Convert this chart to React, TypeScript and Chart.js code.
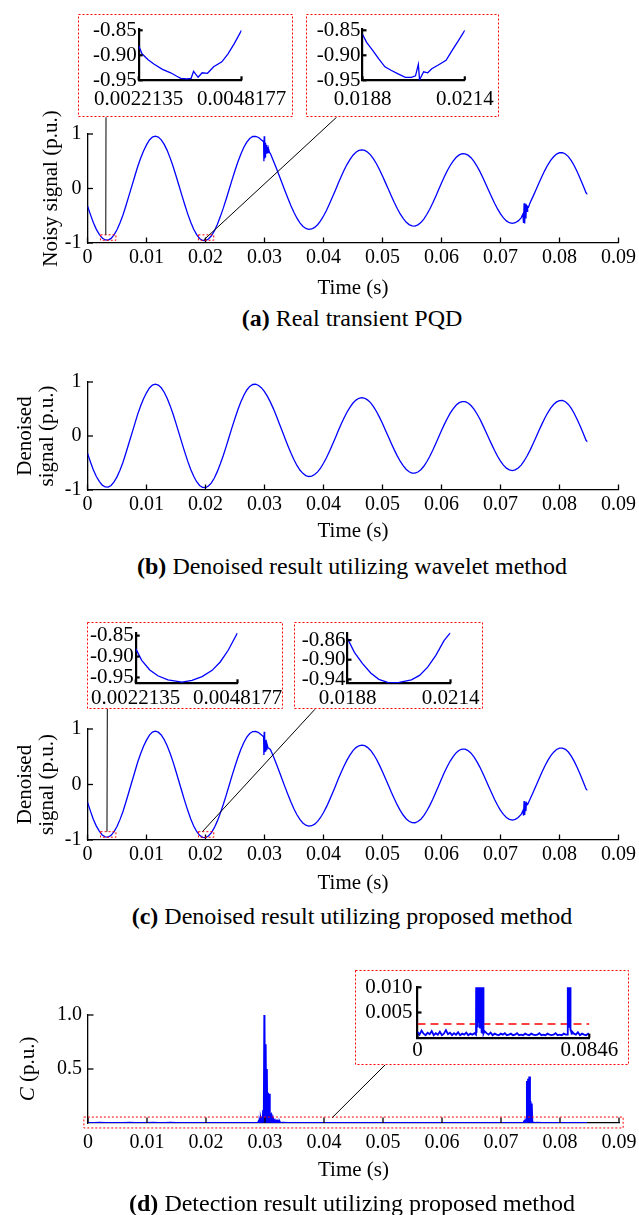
import React, { useEffect, useRef } from "react";
import { Chart, registerables } from "chart.js";

Chart.register(...registerables);

const FONT = "'Liberation Serif', 'Times New Roman', Times, serif";
const BLUE = "#0000ff";
const RED = "#ff0000";

// ---------------- axis ticks ----------------
const TIME_TICKS = [0, 0.01, 0.02, 0.03, 0.04, 0.05, 0.06, 0.07, 0.08, 0.09];
const TIME_TICK_LABELS = ["0", "0.01", "0.02", "0.03", "0.04", "0.05", "0.06", "0.07", "0.08", "0.09"];
const SIGNAL_TICKS = [-1, 0, 1];
const SIGNAL_TICK_LABELS = ["-1", "0", "1"];
const C_TICKS = [0.5, 1.0];
const C_TICK_LABELS = ["0.5", "1.0"];

const ZOOM1_X_TICKS = [0.0022135, 0.0048177];
const ZOOM1_X_LABELS = ["0.0022135", "0.0048177"];
const ZOOM2_X_TICKS = [0.0188, 0.0214];
const ZOOM2_X_LABELS = ["0.0188", "0.0214"];
const ZOOM_Y_TICKS = [-0.95, -0.9, -0.85];
const ZOOM_Y_LABELS = ["-0.95", "-0.90", "-0.85"];
const ZOOM_C2_Y_TICKS = [-0.94, -0.9, -0.86];
const ZOOM_C2_Y_LABELS = ["-0.94", "-0.90", "-0.86"];
const ZOOM_D_X_TICKS = [0, 0.0846];
const ZOOM_D_X_LABELS = ["0", "0.0846"];
const ZOOM_D_Y_TICKS = [0.005, 0.01];
const ZOOM_D_Y_LABELS = ["0.005", "0.010"];

// ---------------- signal (sampled every 0.5 ms from t = 0) ----------------
const SAMPLE_STEP = 0.0005;
const WAVE_VALUES = [
  -0.32, -0.48, -0.63, -0.75, -0.84, -0.91, -0.944, -0.947, -0.916, -0.85,
  -0.757, -0.633, -0.49, -0.32, -0.14, 0.04, 0.22, 0.4, 0.555, 0.69,
  0.8, 0.89, 0.943, 0.96, 0.943, 0.893, 0.81, 0.7, 0.562, 0.407,
  0.234, 0.054, -0.127, -0.303, -0.47, -0.62, -0.747, -0.847, -0.917, -0.953,
  -0.957, -0.927, -0.868, -0.778, -0.66, -0.52, -0.365, -0.196, -0.019, 0.159,
  0.33, 0.49, 0.634, 0.756, 0.852, 0.918, 0.954, 0.958, 0.936, 0.89,
  0.823, 0.734, 0.627, 0.507, 0.375, 0.233, 0.091, -0.052, -0.19, -0.32,
  -0.44, -0.545, -0.63, -0.692, -0.733, -0.75, -0.743, -0.714, -0.664, -0.594,
  -0.505, -0.404, -0.286, -0.162, -0.035, 0.097, 0.222, 0.338, 0.444, 0.535,
  0.611, 0.665, 0.698, 0.71, 0.699, 0.665, 0.613, 0.54, 0.45, 0.345,
  0.231, 0.108, -0.014, -0.138, -0.257, -0.368, -0.467, -0.55, -0.616, -0.662,
  -0.686, -0.689, -0.667, -0.625, -0.561, -0.477, -0.38, -0.27, -0.15, -0.025,
  0.1, 0.22, 0.33, 0.427, 0.507, 0.574, 0.617, 0.638, 0.636, 0.612,
  0.565, 0.497, 0.412, 0.314, 0.202, 0.084, -0.036, -0.155, -0.27, -0.375,
  -0.466, -0.539, -0.595, -0.628, -0.64, -0.628, -0.594, -0.539, -0.463, -0.37,
  -0.266, -0.149, -0.026, 0.096, 0.215, 0.329, 0.43, 0.516, 0.583, 0.631,
  0.656, 0.657, 0.634, 0.585, 0.512, 0.417, 0.306, 0.185, 0.054, -0.079,
];
const WAVE_END_T = [0.0846];
const WAVE_END_V = [-0.09];

// transient bursts in the measured signal (a)
const NOISY_BURST1_T = [0.02985, 0.0299, 0.02995, 0.03, 0.03005, 0.0301, 0.03015, 0.0302, 0.0303, 0.0304, 0.0305, 0.0306, 0.0307, 0.03085, 0.031];
const NOISY_BURST1_V = [0.86, 0.5, 0.96, 0.55, 0.9, 0.58, 0.84, 0.62, 0.8, 0.64, 0.76, 0.66, 0.72, 0.66, 0.64];
const NOISY_BURST2_T = [0.0738, 0.0739, 0.074, 0.0741, 0.0742, 0.0743, 0.0744, 0.0745, 0.0746, 0.07475];
const NOISY_BURST2_V = [-0.47, -0.63, -0.27, -0.64, -0.28, -0.55, -0.3, -0.42, -0.33, -0.34];

// transient bursts kept by the proposed method (c)
const PROPOSED_BURST1_T = [0.02985, 0.0299, 0.02995, 0.03, 0.03005, 0.0301, 0.0302, 0.0303, 0.0304, 0.0306, 0.031];
const PROPOSED_BURST1_V = [0.86, 0.53, 0.95, 0.58, 0.88, 0.6, 0.8, 0.63, 0.74, 0.66, 0.63];
const PROPOSED_BURST2_T = [0.0738, 0.0739, 0.074, 0.0741, 0.0742, 0.0743, 0.0744, 0.0746];
const PROPOSED_BURST2_V = [-0.47, -0.56, -0.3, -0.55, -0.32, -0.48, -0.33, -0.36];

// zoomed windows
const INSET_A1_T = [0.0022135, 0.002297, 0.002452, 0.002607, 0.002815, 0.003023, 0.003179, 0.00328, 0.003438, 0.003541, 0.003604, 0.003718, 0.003822, 0.003956, 0.004112, 0.00432, 0.004476, 0.004631, 0.0048177];
const INSET_A1_V = [-0.881, -0.897, -0.909, -0.918, -0.928, -0.935, -0.942, -0.946, -0.947, -0.946, -0.932, -0.944, -0.935, -0.936, -0.923, -0.913, -0.897, -0.877, -0.85];
const INSET_A2_T = [0.0188, 0.018904, 0.019059, 0.019214, 0.01937, 0.019525, 0.01968, 0.019888, 0.020043, 0.020147, 0.020219, 0.02025, 0.020354, 0.020457, 0.020561, 0.020716, 0.020924, 0.021079, 0.021234, 0.0214];
const INSET_A2_V = [-0.858, -0.874, -0.89, -0.907, -0.923, -0.93, -0.936, -0.944, -0.944, -0.941, -0.918, -0.949, -0.933, -0.935, -0.927, -0.92, -0.91, -0.89, -0.871, -0.85];
const INSET_C1_T = [0.0022135, 0.002368, 0.002574, 0.00278, 0.003037, 0.003397, 0.003654, 0.003912, 0.004169, 0.004375, 0.00458, 0.0048177];
const INSET_C1_V = [-0.881, -0.909, -0.932, -0.946, -0.956, -0.961, -0.957, -0.948, -0.933, -0.913, -0.885, -0.843];
const INSET_C2_T = [0.0188, 0.018975, 0.01918, 0.019386, 0.019591, 0.019848, 0.020105, 0.020413, 0.020619, 0.020824, 0.02103, 0.021236, 0.0214];
const INSET_C2_V = [-0.857, -0.885, -0.908, -0.927, -0.94, -0.947, -0.946, -0.941, -0.932, -0.915, -0.891, -0.861, -0.845];

// ---------------- detection index C (sampled every 1 ms) ----------------
const C_STEP = 0.001;
const C_BASE = [
  0.0011, 0.0006, 0.0014, 0.0008, 0.0005, 0.001, 0.0007, 0.0013, 0.0005, 0.0009,
  0.0006, 0.0012, 0.0005, 0.0008, 0.0015, 0.0007, 0.001, 0.0005, 0.0009, 0.0006,
  0.0011, 0.0005, 0.0008, 0.0006, 0.001, 0.0005, 0.0008, 0.0006, 0.0009, 0.0012,
  0.0013, 0.0016, 0.0014, 0.0013, 0.0009, 0.0006, 0.001, 0.0005, 0.0008, 0.0006,
  0.0005, 0.0008, 0.0006, 0.0009, 0.0005, 0.0006, 0.0008, 0.0005, 0.0006, 0.0009,
  0.0005, 0.0006, 0.0005, 0.0008, 0.0006, 0.0005, 0.0008, 0.0006, 0.0005, 0.0006,
  0.0009, 0.0005, 0.0006, 0.0005, 0.0008, 0.0006, 0.0005, 0.0006, 0.0009, 0.0005,
  0.0006, 0.0005, 0.0008, 0.0006, 0.0009, 0.0014, 0.0013, 0.0008, 0.0006, 0.0011,
  0.0005, 0.0008, 0.0006, 0.0005, 0.0008,
];
const C_END_T = [0.0846];
const C_END_V = [0.0006];
const C_SPIKE1_T = [
  0.0288, 0.0289, 0.029, 0.0291, 0.0292, 0.0293, 0.0294, 0.0295, 0.0296, 0.0297,
  0.0298, 0.0299, 0.03, 0.0301, 0.0302, 0.0303, 0.0304, 0.0305, 0.0306, 0.0307,
  0.0308, 0.0309, 0.031, 0.0311, 0.0312, 0.0313, 0.0314, 0.0315, 0.0316, 0.0317,
  0.0318, 0.0319, 0.032, 0.0321, 0.0322, 0.0323, 0.0324, 0.0325, 0.0326,
];
const C_SPIKE1_V = [
  0.0006, 0.012, 0.001, 0.018, 0.002, 0.03, 0.004, 0.06, 0.002, 0.12,
  0.004, 1.0, 0.003, 0.73, 0.004, 0.5, 0.002, 0.28, 0.003, 0.27,
  0.002, 0.09, 0.003, 0.04, 0.002, 0.025, 0.001, 0.02, 0.002, 0.018,
  0.001, 0.015, 0.002, 0.014, 0.001, 0.012, 0.002, 0.011, 0.0008,
];
const C_SPIKE2_T = [0.0738, 0.0739, 0.074, 0.0741, 0.0742, 0.0743, 0.0744, 0.0745, 0.0746, 0.0747, 0.0748, 0.0749, 0.075, 0.0751, 0.0752, 0.0753, 0.0754, 0.0755, 0.0757, 0.0759];
const C_SPIKE2_V = [0.0006, 0.011, 0.002, 0.02, 0.004, 0.003, 0.39, 0.003, 0.41, 0.004, 0.43, 0.002, 0.2, 0.003, 0.18, 0.012, 0.002, 0.0015, 0.0012, 0.0006];
const C_THRESHOLD = 0.0027;

// ---------------- helpers ----------------
type Pt = { x: number; y: number };
const sampled = (vals: number[], step: number): Pt[] =>
  vals.map((v, i) => ({ x: Math.round(i * step * 1e7) / 1e7, y: v }));
const pairs = (ts: number[], vs: number[]): Pt[] => ts.map((t, i) => ({ x: t, y: vs[i] }));
function splice(base: Pt[], bursts: Pt[][]): Pt[] {
  let pts = base.slice();
  for (const b of bursts) {
    const lo = b[0].x, hi = b[b.length - 1].x;
    pts = pts.filter((p) => p.x < lo || p.x > hi).concat(b);
  }
  return pts.sort((a, b) => a.x - b.x);
}

const baseWave = splice(sampled(WAVE_VALUES, SAMPLE_STEP), [pairs(WAVE_END_T, WAVE_END_V)]);
const noisySignal = splice(baseWave, [pairs(NOISY_BURST1_T, NOISY_BURST1_V), pairs(NOISY_BURST2_T, NOISY_BURST2_V)]);
const waveletSignal = baseWave;
const proposedSignal = splice(baseWave, [pairs(PROPOSED_BURST1_T, PROPOSED_BURST1_V), pairs(PROPOSED_BURST2_T, PROPOSED_BURST2_V)]);
const detection = splice(sampled(C_BASE, C_STEP), [
  pairs(C_END_T, C_END_V),
  pairs(C_SPIKE1_T, C_SPIKE1_V),
  pairs(C_SPIKE2_T, C_SPIKE2_V),
]);

// ---------------- chart builder ----------------
type Axis = { min: number; max: number; ticks: number[]; labels: string[] };
type Link = { from: [number, number]; to: [number, number] };
type Rect = { x0: number; x1: number; y0: number; y1: number };
type Spec = {
  left: number; top: number; width: number; height: number;
  area: { left: number; right: number; top: number; bottom: number };
  x: Axis; y: Axis;
  xAxisH?: number;
  xTickPad: number; yTickPad: number;
  tickFont: number;
  xTitle?: string;
  yTitle?: string | string[]; yTitlePad?: number;
  axisWidth: number; tickLen: number;
  datasets: any[];
  box?: boolean;
  rects?: Rect[];
  links?: Link[];
  cTitle?: { x: number };
};

const line = (data: Pt[], width = 1.3, extra: any = {}) => ({
  data, borderColor: BLUE, borderWidth: width, pointRadius: 0, fill: false, tension: 0, ...extra,
});

const decorPlugin = {
  id: "decor",
  beforeDraw(chart: any, _a: any, opts: any) {
    const spec: Spec = opts.spec;
    if (spec.box) {
      const ctx = chart.ctx;
      ctx.save();
      ctx.fillStyle = "#ffffff";
      ctx.fillRect(0, 0, chart.width, chart.height);
      ctx.restore();
    }
  },
  afterDraw(chart: any, _a: any, opts: any) {
    const spec: Spec = opts.spec;
    const ctx = chart.ctx;
    const xs = chart.scales.x, ys = chart.scales.y;
    const ca = chart.chartArea;
    ctx.save();
    // inward tick marks
    ctx.strokeStyle = "#000";
    ctx.lineWidth = spec.axisWidth;
    ctx.setLineDash([]);
    xs.ticks.forEach((t: any) => {
      const px = xs.getPixelForValue(t.value);
      ctx.beginPath();
      ctx.moveTo(px, ca.bottom);
      ctx.lineTo(px, ca.bottom - spec.tickLen);
      ctx.stroke();
    });
    ys.ticks.forEach((t: any) => {
      const py = ys.getPixelForValue(t.value);
      ctx.beginPath();
      ctx.moveTo(ca.left, py);
      ctx.lineTo(ca.left + spec.tickLen, py);
      ctx.stroke();
    });
    // zoom rectangles
    if (spec.rects) {
      ctx.strokeStyle = RED;
      ctx.lineWidth = 1;
      ctx.setLineDash([2, 2]);
      spec.rects.forEach((r) => {
        const x0 = xs.getPixelForValue(r.x0), x1 = xs.getPixelForValue(r.x1);
        const y0 = ys.getPixelForValue(r.y0), y1 = ys.getPixelForValue(r.y1);
        ctx.strokeRect(Math.min(x0, x1), Math.min(y0, y1), Math.abs(x1 - x0), Math.abs(y1 - y0));
      });
    }
    // connectors
    if (spec.links) {
      ctx.strokeStyle = "#000";
      ctx.lineWidth = 1;
      ctx.setLineDash([]);
      spec.links.forEach((l) => {
        ctx.beginPath();
        ctx.moveTo(l.from[0] - spec.left, l.from[1] - spec.top);
        ctx.lineTo(xs.getPixelForValue(l.to[0]), ys.getPixelForValue(l.to[1]));
        ctx.stroke();
      });
    }
    // italic C title
    if (spec.cTitle) {
      ctx.translate(spec.cTitle.x - spec.left, (ca.top + ca.bottom) / 2);
      ctx.rotate(-Math.PI / 2);
      ctx.fillStyle = "#000";
      ctx.textBaseline = "middle";
      ctx.textAlign = "left";
      const it = `italic 21px ${FONT}`, nm = `21px ${FONT}`;
      ctx.font = it;
      const w1 = ctx.measureText("C").width;
      ctx.font = nm;
      const w2 = ctx.measureText(" (p.u.)").width;
      const x0 = -(w1 + w2) / 2;
      ctx.font = it;
      ctx.fillText("C", x0, 0);
      ctx.font = nm;
      ctx.fillText(" (p.u.)", x0 + w1, 0);
      ctx.setTransform(1, 0, 0, 1, 0, 0);
    }
    // red dotted frame of an inset
    if (spec.box) {
      ctx.setTransform(1, 0, 0, 1, 0, 0);
      ctx.strokeStyle = RED;
      ctx.lineWidth = 1;
      ctx.setLineDash([2, 2]);
      ctx.strokeRect(0.5, 0.5, chart.width - 1, chart.height - 1);
    }
    ctx.restore();
  },
};

function buildConfig(spec: Spec): any {
  const padTop = spec.area.top - spec.top;
  const padRight = spec.left + spec.width - spec.area.right;
  const yW = spec.area.left - spec.left;
  const xH = spec.xAxisH ?? spec.top + spec.height - spec.area.bottom;
  const padBottom = spec.top + spec.height - spec.area.bottom - xH;
  const tickFont = { family: FONT, size: spec.tickFont, lineHeight: 1 };
  const titleFont = { family: FONT, size: 21, lineHeight: 22 / 21 };
  return {
    type: "line",
    data: { datasets: spec.datasets },
    plugins: [decorPlugin],
    options: {
      animation: false,
      responsive: false,
      maintainAspectRatio: false,
      devicePixelRatio: 1,
      events: [],
      parsing: true,
      layout: { padding: { top: padTop, right: padRight, bottom: padBottom, left: 0 } },
      plugins: { legend: { display: false }, tooltip: { enabled: false }, decor: { spec } },
      scales: {
        x: {
          type: "linear",
          position: "bottom",
          min: spec.x.min,
          max: spec.x.max,
          bounds: "data",
          afterBuildTicks: (s: any) => { s.ticks = spec.x.ticks.map((v) => ({ value: v })); },
          afterFit: (s: any) => { s.height = xH; s.paddingLeft = 0; s.paddingRight = 0; },
          grid: { display: false, drawTicks: false },
          border: { display: true, color: "#000", width: spec.axisWidth },
          ticks: {
            font: tickFont, color: "#000", padding: spec.xTickPad, maxRotation: 0, minRotation: 0,
            autoSkip: false, callback: (_v: any, i: number) => spec.x.labels[i],
          },
          title: {
            display: !!spec.xTitle, text: spec.xTitle ?? "", color: "#000",
            font: titleFont, padding: { top: 0, bottom: 0 },
          },
        },
        y: {
          type: "linear",
          position: "left",
          min: spec.y.min,
          max: spec.y.max,
          bounds: "data",
          afterBuildTicks: (s: any) => { s.ticks = spec.y.ticks.map((v) => ({ value: v })); },
          afterFit: (s: any) => { s.width = yW; s.paddingTop = 0; s.paddingBottom = 0; },
          grid: { display: false, drawTicks: false },
          border: { display: true, color: "#000", width: spec.axisWidth },
          ticks: {
            font: tickFont, color: "#000", padding: spec.yTickPad, autoSkip: false,
            callback: (_v: any, i: number) => spec.y.labels[i],
          },
          title: {
            display: !!spec.yTitle, text: spec.yTitle ?? "", color: "#000",
            font: titleFont, padding: { top: spec.yTitlePad ?? 0, bottom: 0 },
          },
        },
      },
    },
  };
}

// ---------------- panel specs ----------------
const timeAxis: Axis = { min: 0, max: 0.09, ticks: TIME_TICKS, labels: TIME_TICK_LABELS };
const signalAxis: Axis = { min: -1, max: 1, ticks: SIGNAL_TICKS, labels: SIGNAL_TICK_LABELS };
const zoomRects: Rect[] = [
  { x0: ZOOM1_X_TICKS[0], x1: ZOOM1_X_TICKS[1], y0: -0.95, y1: -0.85 },
  { x0: ZOOM2_X_TICKS[0], x1: ZOOM2_X_TICKS[1], y0: -0.95, y1: -0.85 },
];

const mainCommon = {
  left: 0, width: 639, height: 200, tickFont: 20, xTickPad: 5, yTickPad: 6,
  axisWidth: 1.3, tickLen: 5.5, xTitle: "Time (s)", x: timeAxis,
};

const panelA: Spec = {
  ...mainCommon, top: 100,
  area: { left: 87.5, right: 618.5, top: 134, bottom: 243 },
  xAxisH: 56, y: signalAxis,
  yTitle: "Noisy signal (p.u.)", yTitlePad: 40.7,
  datasets: [line(noisySignal)],
  rects: zoomRects,
  links: [
    { from: [106, 117.3], to: [0.0031, -0.85] },
    { from: [336.5, 117.3], to: [0.0197, -0.945] },
  ],
};
const panelB: Spec = {
  ...mainCommon, top: 350,
  area: { left: 87.5, right: 618.5, top: 382, bottom: 490 },
  xAxisH: 52, y: signalAxis,
  yTitle: ["Denoised", "signal (p.u.)"], yTitlePad: 14,
  datasets: [line(waveletSignal)],
};
const panelC: Spec = {
  ...mainCommon, top: 700,
  area: { left: 87.5, right: 618.5, top: 729, bottom: 840 },
  xAxisH: 54, y: signalAxis,
  yTitle: ["Denoised", "signal (p.u.)"], yTitlePad: 14,
  datasets: [line(proposedSignal)],
  rects: zoomRects,
  links: [
    { from: [107.3, 709], to: [0.0033, -0.85] },
    { from: [314.9, 709.3], to: [0.01947, -0.85] },
  ],
};
const panelD: Spec = {
  ...mainCommon, top: 990, height: 205, xTickPad: 10,
  area: { left: 88, right: 619, top: 1015, bottom: 1123 },
  xAxisH: 58,
  y: { min: 0, max: 1, ticks: C_TICKS, labels: C_TICK_LABELS },
  datasets: [line(detection, 2)],
  rects: [{ x0: -0.0007, x1: 0.0907, y0: -0.046, y1: 0.055 }],
  links: [{ from: [385, 1065], to: [0.0414, 0.05] }],
  cTitle: { x: 28.3 },
};

const insetCommon = { tickFont: 21, axisWidth: 2.2, tickLen: 4, box: true, yTickPad: 2 };
const insetA1: Spec = {
  ...insetCommon, left: 78, top: 14, width: 215, height: 103, xTickPad: 9,
  area: { left: 138.7, right: 241.5, top: 29.3, bottom: 80.3 },
  x: { min: ZOOM1_X_TICKS[0], max: ZOOM1_X_TICKS[1], ticks: ZOOM1_X_TICKS, labels: ZOOM1_X_LABELS },
  y: { min: -0.95, max: -0.848, ticks: ZOOM_Y_TICKS, labels: ZOOM_Y_LABELS },
  datasets: [line(pairs(INSET_A1_T, INSET_A1_V))],
};
const insetA2: Spec = {
  ...insetCommon, left: 306, top: 14, width: 193, height: 103, xTickPad: 9,
  area: { left: 362.5, right: 464.8, top: 29.3, bottom: 80.3 },
  x: { min: ZOOM2_X_TICKS[0], max: ZOOM2_X_TICKS[1], ticks: ZOOM2_X_TICKS, labels: ZOOM2_X_LABELS },
  y: { min: -0.95, max: -0.848, ticks: ZOOM_Y_TICKS, labels: ZOOM_Y_LABELS },
  datasets: [line(pairs(INSET_A2_T, INSET_A2_V))],
};
const insetC1: Spec = {
  ...insetCommon, left: 87, top: 622, width: 196, height: 87, xTickPad: 4.5,
  area: { left: 135.7, right: 237.5, top: 632.7, bottom: 683.3 },
  x: { min: ZOOM1_X_TICKS[0], max: ZOOM1_X_TICKS[1], ticks: ZOOM1_X_TICKS, labels: ZOOM1_X_LABELS },
  y: { min: -0.964, max: -0.843, ticks: ZOOM_Y_TICKS, labels: ZOOM_Y_LABELS },
  datasets: [line(pairs(INSET_C1_T, INSET_C1_V))],
};
const insetC2: Spec = {
  ...insetCommon, left: 294, top: 622, width: 189, height: 87, xTickPad: 4.5,
  area: { left: 347.5, right: 450.5, top: 632.7, bottom: 683.3 },
  x: { min: ZOOM2_X_TICKS[0], max: ZOOM2_X_TICKS[1], ticks: ZOOM2_X_TICKS, labels: ZOOM2_X_LABELS },
  y: { min: -0.948, max: -0.845, ticks: ZOOM_C2_Y_TICKS, labels: ZOOM_C2_Y_LABELS },
  datasets: [line(pairs(INSET_C2_T, INSET_C2_V))],
};
const insetD: Spec = {
  ...insetCommon, left: 355, top: 970, width: 274, height: 95, xTickPad: 2.5, yTickPad: 5,
  area: { left: 417.5, right: 589.3, top: 987.3, bottom: 1037.7 },
  x: { min: 0, max: 0.0846, ticks: ZOOM_D_X_TICKS, labels: ZOOM_D_X_LABELS },
  y: { min: 0, max: 0.01, ticks: ZOOM_D_Y_TICKS, labels: ZOOM_D_Y_LABELS },
  datasets: [
    line(detection, 1.8, { clip: 0 }),
    line([{ x: 0, y: C_THRESHOLD }, { x: 0.0846, y: C_THRESHOLD }], 1.5, { borderColor: RED, borderDash: [8, 5], clip: 0 }),
  ],
};

function ChartCanvas({ spec }: { spec: Spec }) {
  const ref = useRef<HTMLCanvasElement | null>(null);
  useEffect(() => {
    if (!ref.current) return;
    const chart = new Chart(ref.current, buildConfig(spec));
    return () => chart.destroy();
  }, [spec]);
  return (
    <canvas
      ref={ref}
      width={spec.width}
      height={spec.height}
      style={{ position: "absolute", left: spec.left, top: spec.top, width: spec.width, height: spec.height }}
    />
  );
}

function Caption({ top, tag, text }: { top: number; tag: string; text: string }) {
  return (
    <div
      style={{
        position: "absolute", left: 52, width: 600, top, textAlign: "center",
        fontFamily: FONT, fontSize: 24, lineHeight: "28px", color: "#000", whiteSpace: "nowrap",
      }}
    >
      <b>{tag}</b> {text}
    </div>
  );
}

export default function App() {
  useEffect(() => {
    document.body.style.margin = "0";
  }, []);
  return (
    <div style={{ position: "absolute", left: 0, top: 0, width: 639, height: 1215, background: "#fff", overflow: "hidden" }}>
      <ChartCanvas spec={panelA} />
      <ChartCanvas spec={panelB} />
      <ChartCanvas spec={panelC} />
      <ChartCanvas spec={panelD} />
      <ChartCanvas spec={insetA1} />
      <ChartCanvas spec={insetA2} />
      <ChartCanvas spec={insetC1} />
      <ChartCanvas spec={insetC2} />
      <ChartCanvas spec={insetD} />
      <Caption top={304} tag="(a)" text="Real transient PQD" />
      <Caption top={552} tag="(b)" text="Denoised result utilizing wavelet method" />
      <Caption top={902} tag="(c)" text="Denoised result utilizing proposed method" />
      <Caption top={1189} tag="(d)" text="Detection result utilizing proposed method" />
    </div>
  );
}
